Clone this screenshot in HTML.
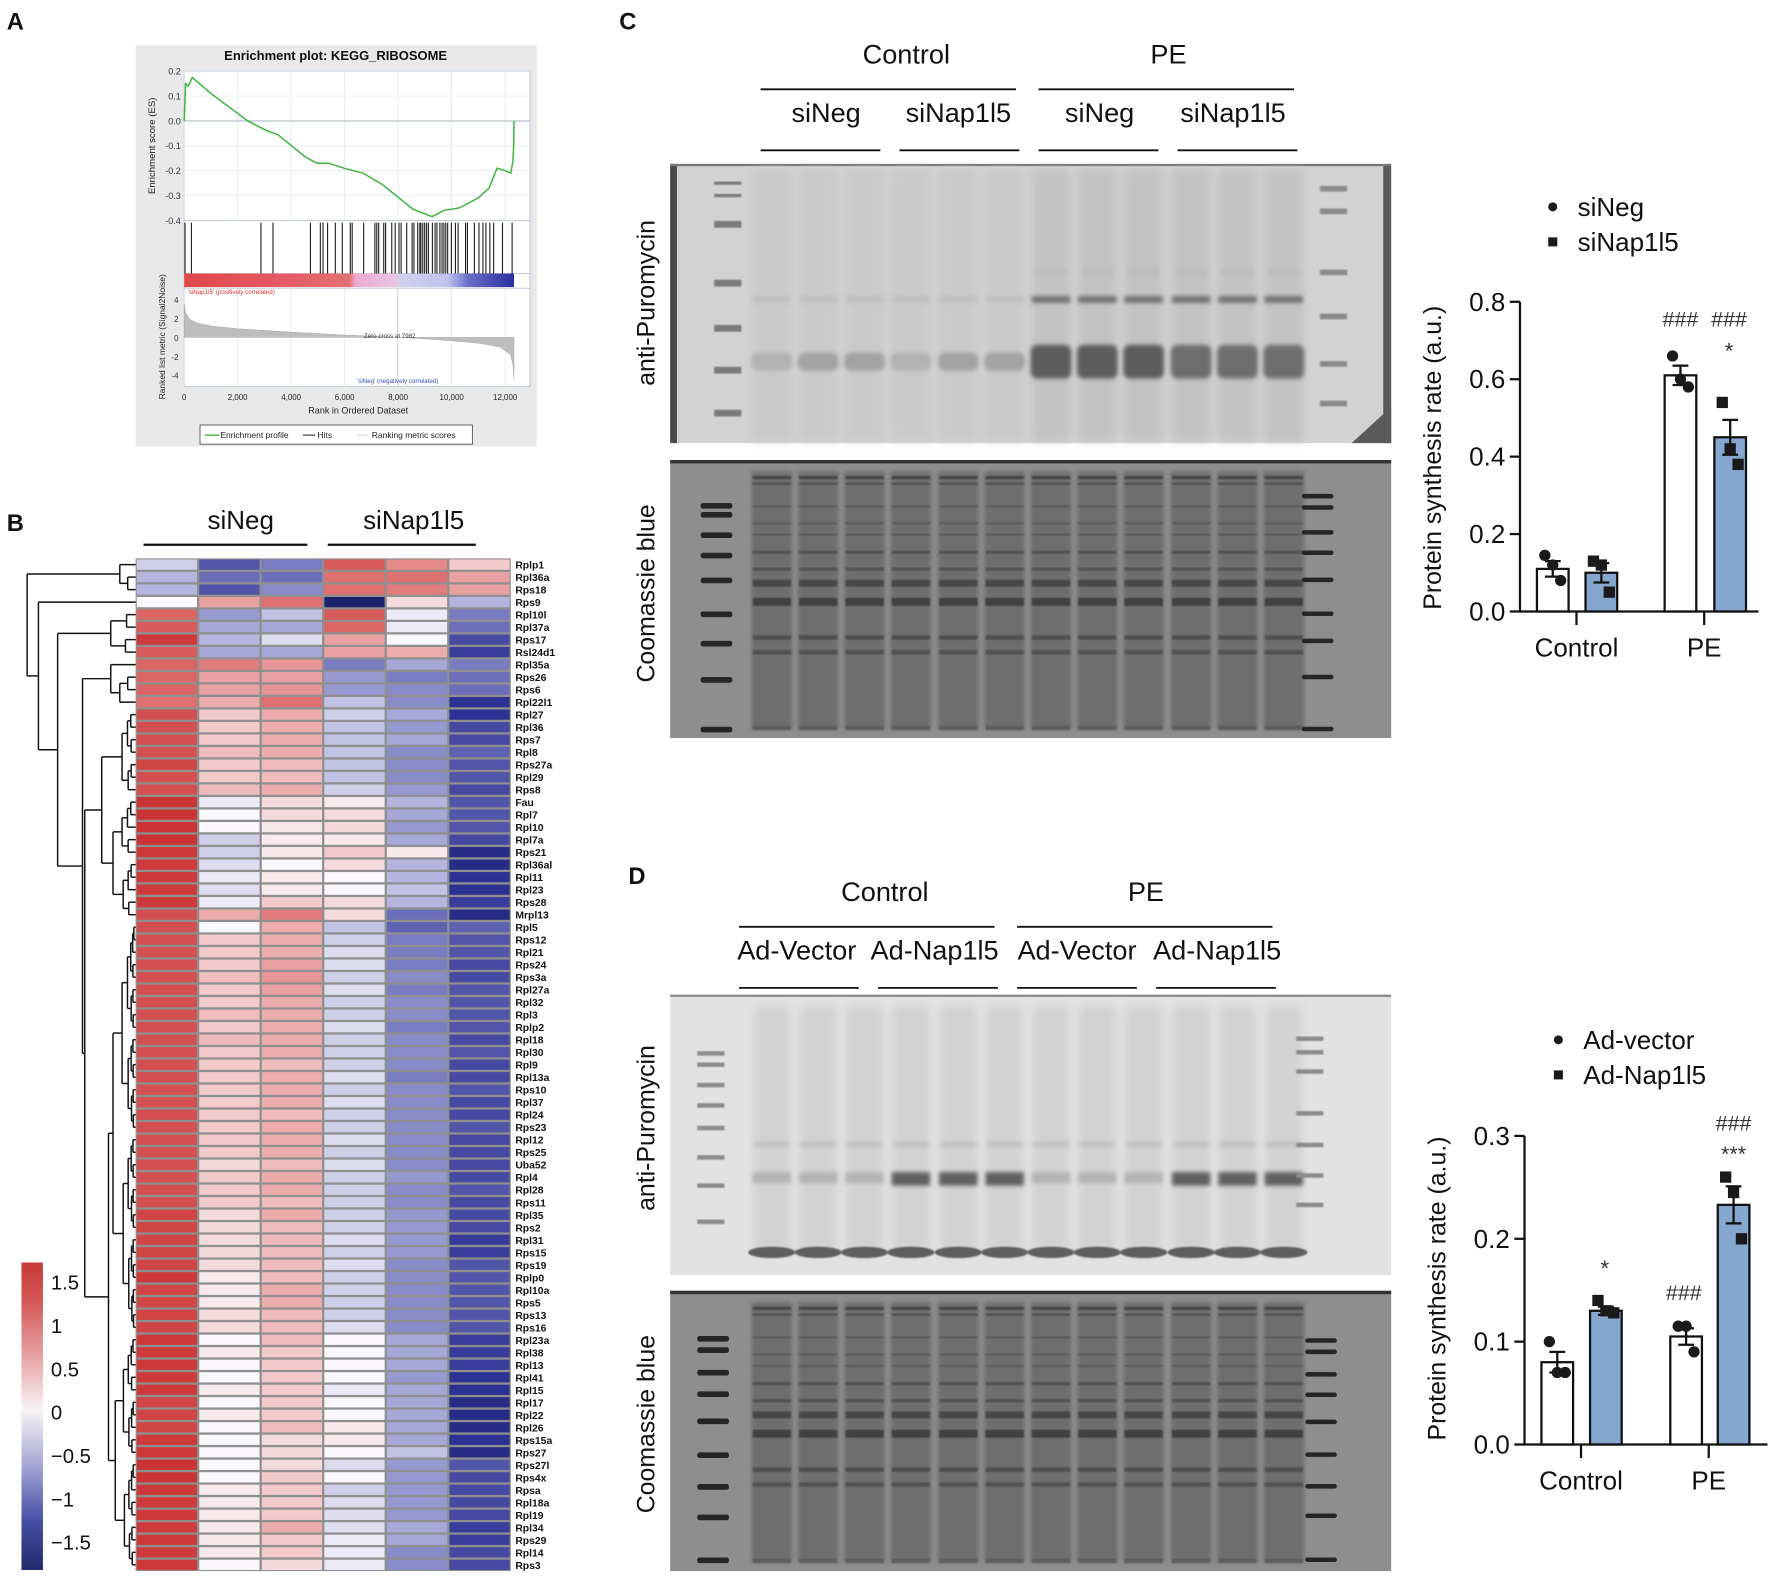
<!DOCTYPE html>
<html><head><meta charset="utf-8">
<style>
html,body{margin:0;padding:0;background:#fff;}
svg{display:block;font-family:"Liberation Sans",Arial,sans-serif;}
</style></head>
<body>
<svg id="fig" width="1772" height="1579" viewBox="0 0 1568 1397" preserveAspectRatio="none" xmlns="http://www.w3.org/2000/svg">
<defs>
<filter id="b2" x="-20%" y="-50%" width="140%" height="200%"><feGaussianBlur stdDeviation="2"/></filter>
<filter id="b4" x="-20%" y="-50%" width="140%" height="200%"><feGaussianBlur stdDeviation="4"/></filter>
<filter id="b1"><feGaussianBlur stdDeviation="0.8"/></filter>
<linearGradient id="rankbar" x1="0" x2="1" y1="0" y2="0">
<stop offset="0" stop-color="#e04848"/><stop offset="0.3" stop-color="#e55a66"/><stop offset="0.5" stop-color="#e37070"/><stop offset="0.52" stop-color="#eeaad4"/><stop offset="0.64" stop-color="#e8c4e0"/><stop offset="0.66" stop-color="#d0d0ee"/><stop offset="0.8" stop-color="#c0c0ec"/><stop offset="0.86" stop-color="#6a70c8"/><stop offset="1" stop-color="#2a30a0"/>
</linearGradient>
<linearGradient id="cbar" x1="0" x2="0" y1="0" y2="1">
<stop offset="0" stop-color="#c83a3a"/><stop offset="0.12" stop-color="#d45656"/><stop offset="0.3" stop-color="#e6a0a0"/><stop offset="0.48" stop-color="#f8f4f6"/><stop offset="0.66" stop-color="#a4a6d4"/><stop offset="0.84" stop-color="#4650a6"/><stop offset="1" stop-color="#1e2a6a"/>
</linearGradient>
</defs>
<g id="layer"></g>
</svg>
<script>
// ---------- DATA ----------
// Panel A (GSEA)
const esRank = [0,50,150,300,1000,2380,3100,3500,4530,4970,5400,5970,6690,7400,8550,9270,9700,10280,10990,11400,11700,12000,12210,12290,12320,12330];
const esVal  = [0,0.15,0.14,0.175,0.11,0,-0.04,-0.055,-0.145,-0.17,-0.17,-0.19,-0.21,-0.255,-0.355,-0.385,-0.36,-0.35,-0.31,-0.27,-0.19,-0.2,-0.21,-0.16,-0.09,0];
const hitRanks = [30,270,2870,3320,4720,5090,5190,5360,5650,5910,6210,6280,6710,7130,7200,7270,7460,7530,7760,7890,8030,8110,8320,8520,8590,8730,8810,8850,8920,8990,9060,9130,9280,9380,9450,9560,9640,9710,9780,9850,9990,10140,10240,10520,10590,10850,11020,11170,11280,11430,11570,11900,12260];
const metricRank = [0,50,200,500,1000,2000,4000,6000,7982,9000,10000,11000,11800,12200,12300,12330];
const metricVal  = [3.5,2.6,1.9,1.5,1.2,0.9,0.55,0.25,0,-0.15,-0.35,-0.6,-1.0,-1.8,-3.0,-4.5];
const esTicks = [0.2,0.1,0.0,-0.1,-0.2,-0.3,-0.4];
const metricTicks = [4,2,0,-2,-4];
const rankTicks = [0,2000,4000,6000,8000,10000,12000];

// Panel B (heatmap)
const genes = ["Rplp1","Rpl36a","Rps18","Rps9","Rpl10l","Rpl37a","Rps17","Rsl24d1","Rpl35a","Rps26","Rps6","Rpl22l1","Rpl27","Rpl36","Rps7","Rpl8","Rps27a","Rpl29","Rps8","Fau","Rpl7","Rpl10","Rpl7a","Rps21","Rpl36al","Rpl11","Rpl23","Rps28","Mrpl13","Rpl5","Rps12","Rpl21","Rps24","Rps3a","Rpl27a","Rpl32","Rpl3","Rplp2","Rpl18","Rpl30","Rpl9","Rpl13a","Rps10","Rpl37","Rpl24","Rps23","Rpl12","Rps25","Uba52","Rpl4","Rpl28","Rps11","Rpl35","Rps2","Rpl31","Rps15","Rps19","Rplp0","Rpl10a","Rps5","Rps13","Rps16","Rpl23a","Rpl38","Rpl13","Rpl41","Rpl15","Rpl17","Rpl22","Rpl26","Rps15a","Rps27","Rps27l","Rps4x","Rpsa","Rpl18a","Rpl19","Rpl34","Rps29","Rpl14","Rps3"];
const heat = [
[-0.3,-1.2,-0.9,1.2,0.8,0.3],[-0.5,-1.0,-1.0,1.0,1.0,0.6],[-0.5,-1.2,-0.8,1.0,0.9,0.6],[0.0,0.6,1.0,-1.8,0.2,-0.5],
[1.1,-0.7,-0.4,1.2,-0.1,-0.9],[1.2,-0.6,-0.6,1.1,-0.1,-1.0],[1.5,-0.5,-0.2,0.6,0.0,-1.3],[1.2,-0.6,-0.6,0.6,0.5,-1.4],
[1.1,0.9,0.7,-0.9,-0.6,-0.9],[1.1,0.6,0.6,-0.7,-0.9,-1.0],[1.1,0.6,0.7,-0.7,-0.8,-1.0],[1.0,0.5,1.0,-0.4,-0.8,-1.5],
[1.3,0.3,0.5,-0.3,-0.6,-1.5],[1.3,0.3,0.5,-0.4,-0.7,-1.3],[1.3,0.3,0.5,-0.4,-0.6,-1.3],[1.3,0.4,0.5,-0.4,-0.8,-1.1],
[1.4,0.3,0.4,-0.4,-0.8,-1.2],[1.3,0.3,0.4,-0.4,-0.8,-1.2],[1.3,0.4,0.5,-0.3,-0.7,-1.3],[1.6,-0.1,0.2,0.1,-0.5,-1.2],
[1.6,0.0,0.2,0.2,-0.6,-1.2],[1.6,0.0,0.1,0.2,-0.7,-1.2],[1.6,-0.3,0.1,0.1,-0.6,-1.3],[1.5,-0.3,0.1,0.3,0.1,-1.6],
[1.5,-0.2,0.0,0.2,-0.5,-1.6],[1.5,-0.1,0.1,0.0,-0.5,-1.5],[1.5,-0.2,0.1,0.0,-0.4,-1.5],[1.5,-0.1,0.3,0.2,-0.5,-1.4],
[1.3,0.5,0.9,0.2,-1.0,-1.6],[1.3,0.0,0.5,-0.4,-1.1,-1.1],[1.3,0.3,0.5,-0.3,-0.9,-1.2],[1.3,0.3,0.5,-0.2,-0.9,-1.2],
[1.3,0.3,0.6,-0.2,-0.9,-1.3],[1.3,0.4,0.7,-0.3,-0.8,-1.3],[1.3,0.3,0.6,-0.2,-0.9,-1.2],[1.3,0.3,0.5,-0.3,-0.8,-1.2],
[1.3,0.4,0.5,-0.3,-0.8,-1.2],[1.3,0.3,0.5,-0.2,-0.9,-1.2],[1.3,0.4,0.5,-0.3,-0.8,-1.3],[1.3,0.3,0.5,-0.3,-0.8,-1.2],
[1.3,0.3,0.4,-0.3,-0.8,-1.3],[1.3,0.3,0.5,-0.2,-0.9,-1.3],[1.3,0.3,0.5,-0.3,-0.8,-1.2],[1.3,0.3,0.5,-0.2,-0.8,-1.3],
[1.3,0.3,0.4,-0.3,-0.8,-1.3],[1.3,0.3,0.5,-0.3,-0.8,-1.2],[1.3,0.3,0.5,-0.2,-0.8,-1.3],[1.3,0.3,0.5,-0.3,-0.8,-1.3],
[1.3,0.2,0.4,-0.2,-0.8,-1.3],[1.3,0.3,0.5,-0.3,-0.7,-1.3],[1.3,0.3,0.5,-0.3,-0.8,-1.2],[1.3,0.3,0.4,-0.3,-0.8,-1.3],
[1.4,0.2,0.5,-0.3,-0.7,-1.3],[1.4,0.2,0.4,-0.3,-0.7,-1.3],[1.4,0.2,0.4,-0.2,-0.7,-1.4],[1.4,0.2,0.4,-0.3,-0.7,-1.4],
[1.4,0.2,0.4,-0.2,-0.8,-1.2],[1.5,0.1,0.4,-0.3,-0.8,-1.2],[1.4,0.1,0.5,-0.3,-0.8,-1.2],[1.4,0.1,0.5,-0.3,-0.8,-1.2],
[1.4,0.2,0.4,-0.3,-0.8,-1.2],[1.4,0.2,0.4,-0.2,-0.8,-1.2],[1.5,0.0,0.4,0.0,-0.6,-1.4],[1.5,0.1,0.3,0.0,-0.6,-1.4],
[1.5,0.0,0.3,0.0,-0.6,-1.4],[1.5,0.0,0.3,0.0,-0.7,-1.5],[1.5,0.1,0.3,-0.1,-0.6,-1.5],[1.4,0.0,0.3,0.0,-0.6,-1.6],
[1.4,0.1,0.3,0.0,-0.6,-1.6],[1.4,0.0,0.4,0.1,-0.6,-1.6],[1.5,0.0,0.2,0.1,-0.6,-1.5],[1.5,0.0,0.2,0.0,-0.4,-1.6],
[1.6,0.0,0.2,-0.2,-0.7,-1.2],[1.6,0.0,0.3,0.0,-0.7,-1.3],[1.5,0.1,0.3,-0.3,-0.7,-1.3],[1.5,0.1,0.3,-0.2,-0.7,-1.3],
[1.5,0.1,0.3,-0.2,-0.7,-1.3],[1.5,0.1,0.5,-0.2,-0.6,-1.4],[1.5,0.1,0.3,-0.1,-0.6,-1.4],[1.5,0.1,0.3,-0.1,-0.8,-1.3],
[1.5,0.0,0.2,-0.1,-0.8,-1.3]];
const cbarTicks = [1.5,1,0.5,0,-0.5,-1,-1.5];
const cbarLabels = ["1.5","1","0.5","0","\u22120.5","\u22121","\u22121.5"];

// Panel C chart
const cCats = ["Control","PE"];
const cSeries = ["siNeg","siNap1l5"];
const cMeans = [[0.11,0.10],[0.61,0.45]];
const cSem = [[0.02,0.025],[0.025,0.045]];
const cPts = [[[0.145,0.12,0.08],[0.13,0.12,0.05]],[[0.66,0.60,0.58],[0.54,0.42,0.38]]];
const cTicks = [0.0,0.2,0.4,0.6,0.8];
const cTickLabels = ["0.0","0.2","0.4","0.6","0.8"];

// Panel D chart
const dCats = ["Control","PE"];
const dSeries = ["Ad-vector","Ad-Nap1l5"];
const dMeans = [[0.08,0.13],[0.105,0.233]];
const dSem = [[0.01,0.004],[0.008,0.018]];
const dPts = [[[0.10,0.07,0.07],[0.14,0.13,0.128]],[[0.115,0.115,0.09],[0.26,0.245,0.20]]];
const dTicks = [0.0,0.1,0.2,0.3];
const dTickLabels = ["0.0","0.1","0.2","0.3"];

// ---------- HELPERS ----------
const NS="http://www.w3.org/2000/svg";
const L=document.getElementById('layer');
function mk(tag,attrs,parent,txt){const e=document.createElementNS(NS,tag);for(const k in attrs)e.setAttribute(k,attrs[k]);if(txt!==undefined)e.textContent=txt;(parent||L).appendChild(e);return e;}
function grp(name,parent){const g=mk('g',{},parent);


return g;}
function txt(name,x,y,s,opt,parent){const o=Object.assign({x:x,y:y,'font-size':16,fill:'#111'},opt||{});const t=mk('text',o,parent,s);


return t;}
function line(x1,y1,x2,y2,st,w,parent){return mk('line',{x1:x1,y1:y1,x2:x2,y2:y2,stroke:st||'#111','stroke-width':w||1},parent);}

// panel letters
[["A",6,26],["B",6,470],["C",548,26],["D",556,782]].forEach(p=>{
 txt('panel-label-'+p[0].toLowerCase(),p[1],p[2],p[0],{'font-size':21,'font-weight':'bold'});
});

// ---------- PANEL A ----------
(function(){
const g=grp('gsea-enrichment-plot');
mk('rect',{x:120,y:40,width:355,height:355,fill:'#e9e9e9'},g);
mk('rect',{x:163,y:63,width:306,height:279,fill:'#fff',stroke:'#b8c4d4','stroke-width':0.8},g);
txt('gsea-title',297,53,'Enrichment plot: KEGG_RIBOSOME',{'font-size':11.5,'font-weight':'bold','text-anchor':'middle'},g);
const xr=r=>163+r*(447-163)/12000;
const yes=v=>107-v*220;
const ym=v=>298.5-v*8.4;
rankTicks.forEach(r=>{line(xr(r),63,xr(r),195,'#dde4ee',0.6,g);line(xr(r),255,xr(r),342,'#dde4ee',0.6,g);});
esTicks.forEach(v=>{line(163,yes(v),469,yes(v),'#dde4ee',0.6,g);
 txt('es-tick',160,yes(v)+3,v.toFixed(1),{'font-size':8,'text-anchor':'end',fill:'#333'},g);});
line(163,107,469,107,'#9ab',0.8,g);
line(163,195,469,195,'#b8c4d4',0.8,g);
line(163,242,469,242,'#b8c4d4',0.8,g);
line(163,255,469,255,'#b8c4d4',0.8,g);
let d='';esRank.forEach((r,i)=>{d+=(i?'L':'M')+xr(r).toFixed(1)+','+yes(esVal[i]).toFixed(1);});
const es=mk('path',{d:d,fill:'none',stroke:'#3ab53a','stroke-width':1.3},g);


hitRanks.forEach(r=>{const h=line(xr(r),197,xr(r),242,'#222',1,g);

});
mk('rect',{x:163,y:242,width:xr(12330)-163,height:12,fill:'url(#rankbar)'},g);
txt('positive-label',166,260,"'siNap1l5' (positively correlated)",{'font-size':5.5,fill:'#e03030'},g);
let md='M'+xr(0)+','+ym(0);metricRank.forEach((r,i)=>{md+='L'+xr(r).toFixed(1)+','+ym(metricVal[i]).toFixed(1);});md+='L'+xr(12330)+','+ym(0)+'Z';
const ma=mk('path',{d:md,fill:'#bdbdbd',stroke:'#a9a9a9','stroke-width':0.5},g);


metricTicks.forEach(v=>txt('metric-tick',158,ym(v)+3,String(v),{'font-size':7,'text-anchor':'end',fill:'#333'},g));
line(xr(7982),255,xr(7982),342,'#ccc',0.6,g);
txt('zero-cross-label',322,299,'Zero cross at 7982',{'font-size':5.5,fill:'#333'},g);
txt('negative-label',316,339,"'siNeg' (negatively correlated)",{'font-size':5.5,fill:'#3050c0'},g);
rankTicks.forEach(r=>txt('rank-tick',xr(r),354,r===0?'0':r.toLocaleString('en-US'),{'font-size':7,'text-anchor':'middle',fill:'#222'},g));
txt('rank-axis-title',317,366,'Rank in Ordered Dataset',{'font-size':8,'text-anchor':'middle',fill:'#222'},g);
txt('es-axis-title',0,0,'Enrichment score (ES)',{'font-size':8.5,'text-anchor':'middle',fill:'#222',transform:'translate(137,129) rotate(-90)'},g);
txt('metric-axis-title',0,0,'Ranked list metric (Signal2Noise)',{'font-size':7.5,'text-anchor':'middle',fill:'#222',transform:'translate(146,298) rotate(-90)'},g);
mk('rect',{x:177,y:376,width:241,height:17,fill:'#fff',stroke:'#555','stroke-width':0.8},g);
line(181,385,194,385,'#3ab53a',1.2,g);
txt('legend-enrichment',195,387.5,'Enrichment profile',{'font-size':7.5,fill:'#222'},g);
line(268,385,279,385,'#556',1.2,g);
txt('legend-hits',281,387.5,'Hits',{'font-size':7.5,fill:'#222'},g);
line(316,385,326,385,'#ddd',1.2,g);
txt('legend-ranking',329,387.5,'Ranking metric scores',{'font-size':7.5,fill:'#222'},g);
})();

// ---------- PANEL B ----------
(function(){
const g=grp('heatmap');
const x0=120,w=332/6,y0=494,h=896/81;
const stops=[[-1.8,[30,36,108]],[-1.5,[44,50,148]],[-1,[108,110,186]],[-0.5,[180,180,222]],[0,[250,248,252]],[0.5,[236,172,172]],[1,[222,112,112]],[1.5,[206,58,58]],[1.8,[194,40,40]]];
function col(v){v=Math.max(-1.8,Math.min(1.8,v));for(let i=0;i<stops.length-1;i++){const a=stops[i],b=stops[i+1];if(v<=b[0]){const t=(v-a[0])/(b[0]-a[0]);return 'rgb('+a[1].map((c,k)=>Math.round(c+(b[1][k]-c)*t)).join(',')+')';}}return 'rgb(194,40,40)';}
mk('rect',{x:x0,y:y0,width:332,height:896,fill:'#8f8f8f'},g);
heat.forEach((row,r)=>{row.forEach((v,c)=>{
 const cell=mk('rect',{x:(x0+c*w+1).toFixed(2),y:(y0+r*h+1).toFixed(2),width:(w-2).toFixed(2),height:(h-2).toFixed(2),fill:col(v)},g);
 
 
});
 txt('gene-label',x0+336,y0+r*h+h*0.82,genes[r],{'font-size':9.2,'font-weight':'bold',fill:'#111'},g);
});
txt('group-label-sineg',213,468,'siNeg',{'font-size':23,'text-anchor':'middle'},g);
txt('group-label-sinap1l5',366,468,'siNap1l5',{'font-size':23,'text-anchor':'middle'},g);
line(127,482,272,482,'#111',2,g);line(290,482,421,482,'#111',2,g);
const cb=grp('color-scale-bar',g);
mk('rect',{x:19,y:1117,width:19,height:272,fill:'url(#cbar)'},cb);
const yc=v=>1249-v*76.7;
cbarTicks.forEach((v,i)=>txt('colorbar-tick',45,yc(v)+7,cbarLabels[i],{'font-size':18},cb));
const dg=grp('row-dendrogram',g);
const yr=i=>y0+i*h+h/2;
function R(lo,hi,hh){if(lo===hi)return lo;const m=Math.floor((lo+hi)/2);return {h:hh,a:R(lo,m,hh*0.6),b:R(m+1,hi,hh*0.55)};}
function N(hh,a,b){return {h:hh,a:a,b:b};}
const tree=N(96,N(14,0,N(7,1,2)),N(86,3,N(69,N(22,N(8,4,5),N(9,6,7)),N(47,N(22,8,N(14,N(7,9,10),11)),N(45,N(30,R(12,18,12),R(19,28,20)),N(24,R(29,61,20),R(62,80,18)))))));
function draw(n){if(typeof n==='number')return {x:x0,y:yr(n)};const A=draw(n.a),B=draw(n.b);const x=x0-n.h;
 line(x,A.y,x,B.y,'#111',1.3,dg);line(x,A.y,A.x,A.y,'#111',1.3,dg);line(x,B.y,B.x,B.y,'#111',1.3,dg);return {x:x,y:(A.y+B.y)/2};}
draw(tree);
})();

// ---------- BLOTS ----------
const lanes=[683,724,765,806,848,889,930,971,1012,1054,1095,1136];
function header(prefix,y1,y2,l1,l2,top,subs,sublabels,subx){
 const g=grp(prefix+'-lane-headers');
 txt(prefix+'-header-control',top[0],y1,'Control',{'font-size':24,'text-anchor':'middle'},g);
 txt(prefix+'-header-pe',top[1],y1,'PE',{'font-size':24,'text-anchor':'middle'},g);
 l1.forEach(s=>line(s[0],y1+23,s[1],y1+23,'#111',1.6,g));
 sublabels.forEach((s,i)=>txt(prefix+'-sublabel',subx[i],y2,s,{'font-size':24,'text-anchor':'middle'},g));
 l2.forEach(s=>line(s[0],y2+25,s[1],y2+25,'#111',1.6,g));
}
header('c',56,108,[[673,899],[919,1145]],[[673,779],[796,902],[919,1025],[1042,1148]],[802,1034],null,['siNeg','siNap1l5','siNeg','siNap1l5'],[731,848,973,1091]);
header('d',797,849,[[654,880],[900,1126]],[[654,760],[777,883],[900,1006],[1023,1129]],[783,1014],null,['Ad-Vector','Ad-Nap1l5','Ad-Vector','Ad-Nap1l5'],[705,827,953,1077]);

function puroC(){
 const g=grp('c-anti-puromycin-blot');
 mk('rect',{x:593,y:145,width:638,height:247,fill:'#d2d2d2'},g);
 mk('rect',{x:593,y:145,width:6,height:247,fill:'#4a4a4a'},g);
 mk('rect',{x:1224,y:145,width:7,height:247,fill:'#5a5a5a'},g);
 mk('polygon',{points:'1196,392 1231,392 1231,360',fill:'#5a5a5a'},g);
 mk('rect',{x:593,y:145,width:638,height:2,fill:'#777'},g);
 lanes.forEach((x,i)=>{
  const pe=i>=6;
  mk('rect',{x:x-17,y:150,width:34,height:240,fill:pe?'#c2c2c2':'#cacaca',filter:'url(#b4)'},g);
  mk('rect',{x:x-18,y:pe?305:312,width:36,height:pe?30:16,rx:6,fill:pe?(i<9?'#5d5d5d':'#6e6e6e'):(i%3===0?'#b2b2b2':'#a2a2a2'),filter:'url(#b2)'},g);
  mk('rect',{x:x-17,y:262,width:34,height:6,fill:pe?'#707070':'#c0c0c0',filter:'url(#b2)'},g);
  if(pe)mk('rect',{x:x-14,y:238,width:28,height:6,fill:'#bdbdbd',filter:'url(#b2)'},g);
 });
 [163,174,198,250,290,327,365].forEach((y,i)=>mk('rect',{x:632,y:y-2.5,width:24,height:i<2?3:6,fill:'#7a7a7a',filter:'url(#b1)'},g));
 [167,187,241,280,322,357].forEach(y=>mk('rect',{x:1168,y:y-2.5,width:24,height:5,fill:'#8a8a8a',filter:'url(#b1)'},g));
}
function coomassie(prefix,y0,hgt,ladL,ladR,lx){
 const g=grp(prefix+'-coomassie-blot');
 mk('rect',{x:593,y:y0,width:638,height:hgt,fill:'#8e8e8e'},g);
 mk('rect',{x:593,y:y0,width:638,height:3,fill:'#333'},g);
 lanes.forEach((x,i)=>{
  mk('rect',{x:x-18,y:y0+10,width:36,height:hgt-18,fill:'#6e6e6e',filter:'url(#b2)'},g);
  [[14,3,'#3a3a3a'],[20,2,'#444'],[40,2,'#555'],[55,2,'#555'],[65,2,'#555'],[80,3,'#4a4a4a'],[95,3,'#4a4a4a'],[106,6,'#3a3a3a'],[122,7,'#333'],[155,4,'#444'],[168,4,'#4a4a4a'],[235,4,'#555']].forEach(b=>{
   mk('rect',{x:x-17,y:y0+b[0]*hgt/246,width:34,height:b[1],fill:b[2],opacity:0.75,filter:'url(#b1)'},g);
  });
 });
 ladL.forEach(y=>mk('rect',{x:lx[0],y:y0+y,width:28,height:5,rx:2,fill:'#262626'},g));
 ladR.forEach(y=>mk('rect',{x:lx[1],y:y0+y,width:28,height:4,rx:2,fill:'#262626'},g));
}
puroC();
coomassie('c',407,246,[38,46,64,82,104,134,160,192,236],[30,40,62,80,104,134,158,190,236],[620,1152]);
(function(){
 const g=grp('d-anti-puromycin-blot');
 mk('rect',{x:593,y:880,width:638,height:248,fill:'#e2e2e2'},g);
 mk('rect',{x:593,y:880,width:638,height:2,fill:'#888'},g);
 lanes.forEach((x,i)=>{
  mk('rect',{x:x-16,y:890,width:32,height:220,fill:'#d2d2d2',filter:'url(#b4)'},g);
  const strong=(i>=3&&i<=5)||(i>=9);
  mk('rect',{x:x-17,y:1037,width:34,height:strong?12:10,fill:strong?'#606060':'#b4b4b4',filter:'url(#b2)'},g);
  mk('rect',{x:x-16,y:1010,width:32,height:5,fill:'#c2c2c2',filter:'url(#b2)'},g);
  mk('ellipse',{cx:x,cy:1108,rx:21,ry:5,fill:'#5e5e5e',filter:'url(#b1)'},g);
 });
 [930,940,958,976,996,1022,1047,1079].forEach(y=>mk('rect',{x:617,y:y,width:24,height:4,fill:'#8a8a8a',filter:'url(#b1)'},g));
 [917,929,946,983,1011,1038,1064].forEach(y=>mk('rect',{x:1147,y:y,width:24,height:4,fill:'#8a8a8a',filter:'url(#b1)'},g));
})();
coomassie('d',1142,248,[40,50,70,89,113,143,171,198,236],[42,52,72,90,114,143,171,197,236],[617,1155]);

[['c-anti-puromycin-label',268],['c-coomassie-label',525],['d-anti-puromycin-label',998],['d-coomassie-label',1260]].forEach((p,i)=>{
 txt(p[0],0,0,i%2?'Coomassie blue':'anti-Puromycin',{'font-size':22,'text-anchor':'middle',transform:'translate(579,'+p[1]+') rotate(-90)'});
});

// ---------- BAR CHARTS ----------
function barChart(pre,ax,y0,ytop,vmax,xr,ticks,tlabels,cats,series,means,sem,pts,barX,catX,legY,annots,titleY){
 const g=grp(pre+'-bar-chart');
 const Y=v=>y0-v*(y0-ytop)/vmax;
 line(ax,Y(vmax),ax,y0+1,'#111',2,g);
 line(ax,y0,xr,y0,'#111',2,g);
 ticks.forEach((v,i)=>{line(ax-9,Y(v),ax,Y(v),'#111',2,g);txt(pre+'-y-tick',ax-13,Y(v)+8,tlabels[i],{'font-size':23,'text-anchor':'end'},g);});
 cats.forEach((c,i)=>{line(catX[i],y0,catX[i],y0+12,'#111',2,g);txt(pre+'-x-label-'+c.toLowerCase(),catX[i],y0+40,c,{'font-size':23,'text-anchor':'middle'},g);});
 txt(pre+'-y-axis-title',0,0,'Protein synthesis rate (a.u.)',{'font-size':22,'text-anchor':'middle',transform:'translate('+(ax-70)+','+titleY+') rotate(-90)'},g);
 const jit=[-7,0,7];
 cats.forEach((c,ci)=>series.forEach((s,si)=>{
  const bx=barX[ci][si],bw=28,m=means[ci][si];
  const b=mk('rect',{x:bx,y:Y(m),width:bw,height:y0-Y(m),fill:si?'#85a6cf':'#fff',stroke:'#111','stroke-width':2},g);
  
  
  const cx=bx+bw/2;
  line(cx,Y(m+sem[ci][si]),cx,Y(m-sem[ci][si]),'#111',2,g);
  line(cx-7,Y(m+sem[ci][si]),cx+7,Y(m+sem[ci][si]),'#111',2,g);
  line(cx-7,Y(m-sem[ci][si]),cx+7,Y(m-sem[ci][si]),'#111',2,g);
  pts[ci][si].forEach((v,k)=>{
   let p;
   if(si===0)p=mk('circle',{cx:cx+jit[k],cy:Y(v),r:5,fill:'#1a1a1a'},g);
   else p=mk('rect',{x:cx+jit[k]-5,y:Y(v)-5,width:10,height:10,fill:'#1a1a1a'},g);
   
   
  });
 }));
 const lg=grp(pre+'-legend',g);
 mk('circle',{cx:legY[0],cy:legY[1],r:4,fill:'#1a1a1a'},lg);
 txt(pre+'-legend-'+series[0].toLowerCase(),legY[0]+22,legY[1]+8,series[0],{'font-size':23},lg);
 mk('rect',{x:legY[0]-4,y:legY[1]+27,width:8,height:8,fill:'#1a1a1a'},lg);
 txt(pre+'-legend-'+series[1].toLowerCase(),legY[0]+22,legY[1]+39,series[1],{'font-size':23},lg);
 annots.forEach(a=>txt(pre+'-significance-mark',a[0],a[1],a[2],{'font-size':a[3]||20,'text-anchor':'middle',fill:'#333'},g));
}
barChart('c',1345,541,267,0.8,1556,cTicks,cTickLabels,cCats,cSeries,cMeans,cSem,cPts,[[1360,1403],[1473,1517]],[1395,1508],[1374,183],[[1487,289,'###',19],[1530,289,'###',19],[1530,317,'*',20]],405);
barChart('d',1349,1278,1005,0.3,1564,dTicks,dTickLabels,dCats,dSeries,dMeans,dSem,dPts,[[1364,1407],[1478,1520]],[1399,1512],[1379,920],[[1420,1129,'*',20],[1490,1150,'###',19],[1534,1000,'###',19],[1534,1027,'***',19]],1140);
</script>
</body></html>
